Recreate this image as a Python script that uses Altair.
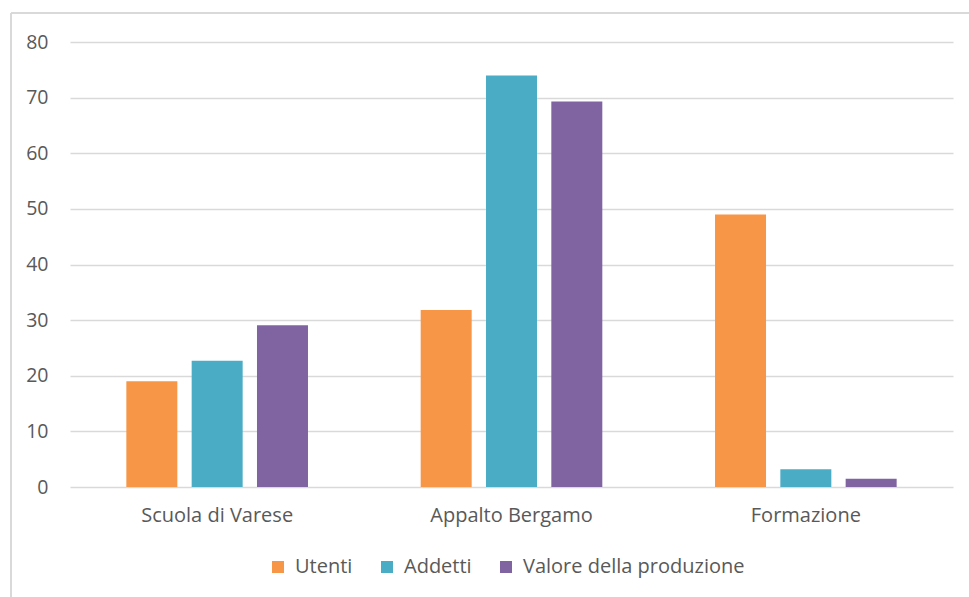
import altair as alt
import pandas as pd

categories = ["Scuola di Varese", "Appalto Bergamo", "Formazione"]
series = ["Utenti", "Addetti", "Valore della produzione"]
utenti = [19.0, 31.8, 49.0]
addetti = [22.7, 74.0, 3.2]
valore = [29.1, 69.3, 1.5]
colors = ["#F79646", "#4BACC6", "#8064A2"]
y_ticks = [0, 10, 20, 30, 40, 50, 60, 70, 80]

rows = []
for i, c in enumerate(categories):
    for s, vals in zip(series, [utenti, addetti, valore]):
        rows.append({"categoria": c, "serie": s, "valore": vals[i]})
df = pd.DataFrame(rows)

FONT = "Open Sans"
GRID = "#D9D9D9"
TXT = "#595959"

bars = alt.Chart(df).mark_bar(size=51).encode(
    x=alt.X("categoria:N", sort=categories, title=None,
            scale=alt.Scale(paddingInner=0.334, paddingOuter=0.167),
            axis=alt.Axis(labelAngle=0, ticks=False, domain=False, labelPadding=18,
                          labelFontSize=20, labelColor=TXT, labelFont=FONT)),
    xOffset=alt.XOffset("serie:N", sort=series,
                        scale=alt.Scale(paddingInner=0.215, paddingOuter=0.108)),
    y=alt.Y("valore:Q", title=None,
            scale=alt.Scale(domain=[0, 80], nice=False),
            axis=alt.Axis(values=y_ticks, ticks=False, domain=False, labelPadding=22,
                          gridColor=GRID, gridWidth=1.5, labelFontSize=19.5,
                          labelColor=TXT, labelFont=FONT)),
    color=alt.Color("serie:N", sort=series, title=None,
                    scale=alt.Scale(domain=series, range=colors),
                    legend=alt.Legend(orient="none", direction="horizontal",
                                      legendX=198, legendY=515, padding=0,
                                      symbolType="square", symbolSize=144,
                                      symbolStrokeWidth=0, labelFontSize=20,
                                      labelColor=TXT, labelFont=FONT, labelLimit=400,
                                      columnPadding=24, labelOffset=7)),
)

border_top = alt.Chart(pd.DataFrame({"k": [0]})).mark_rule(color="#D9D9D9", strokeWidth=2).encode(
    x=alt.value(-59), x2=alt.value(960), y=alt.value(-29))
border_left = alt.Chart(pd.DataFrame({"k": [0]})).mark_rule(color="#D9D9D9", strokeWidth=2).encode(
    x=alt.value(-59), y=alt.value(-29), y2=alt.value(600))

chart = alt.layer(border_top, border_left, bars).properties(
    width=883, height=445,
    autosize=alt.AutoSizeParams(type="none"),
    padding={"left": 70, "top": 42, "right": 16, "bottom": 110},
    background="white",
).configure_view(stroke=None)

chart.save("out.html", embed_options={"renderer": "svg", "actions": False})
